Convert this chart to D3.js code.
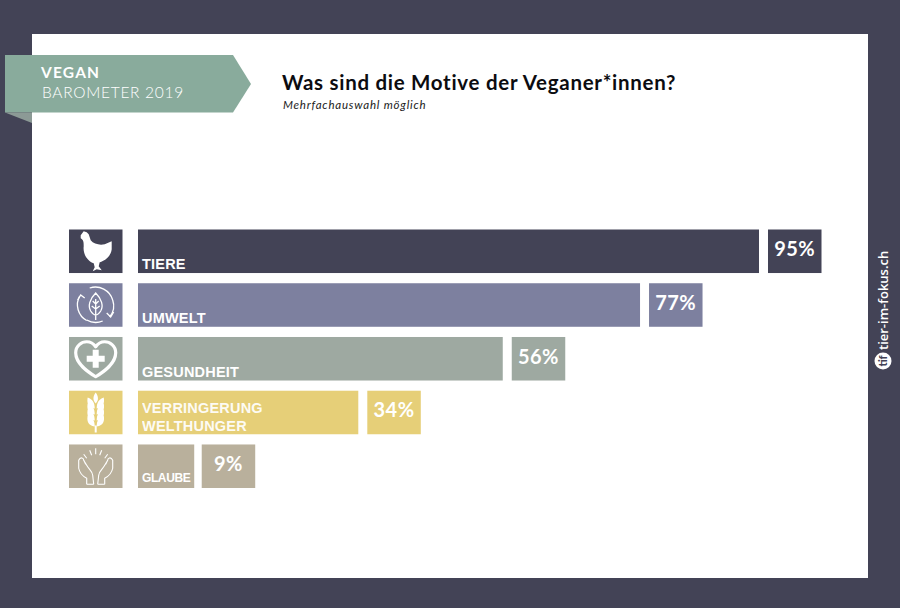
<!DOCTYPE html>
<html><head><meta charset="utf-8">
<script src="https://cdn.jsdelivr.net/npm/d3@7/dist/d3.min.js"></script>
<style>html,body{margin:0;padding:0;background:#434356}svg{display:block}</style></head><body>
<svg id="c" width="900" height="608" font-family="Lato"></svg>
<script>
const categories=["TIERE","UMWELT","GESUNDHEIT","VERRINGERUNG|WELTHUNGER","GLAUBE"];
const values=[95,76.8,55.8,33.7,8.6];
const valueLabels=["95%","77%","56%","34%","9%"];
const colors=["#434356","#7d809f","#9ea9a1","#e6cf78","#b9b09c"];
const iconKeys=["hen","leaf","heart","wheat","hands"];

const svg=d3.select("#c");
svg.append("rect").attr("width",900).attr("height",608).attr("fill","#434356");
svg.append("rect").attr("x",32).attr("y",34).attr("width",836).attr("height",544).attr("fill","#fff");

// banner
svg.append("path").attr("d","M5 55H233L251 84L233 112.5H5Z").attr("fill","#89ab9c");
svg.append("path").attr("d","M5 112.5H32V123Z").attr("fill","#8c9a96");
svg.append("text").attr("x",41).attr("y",78).attr("fill","#fff").attr("font-size",15.5).attr("font-weight",700).attr("letter-spacing",1.2).text("VEGAN");
svg.append("text").attr("x",42).attr("y",98).attr("fill","#fff").attr("font-size",15.5).attr("font-weight",300).attr("letter-spacing",.7).text("BAROMETER 2019");

svg.append("text").attr("x",282).attr("y",90).attr("fill","#0c0c10").attr("font-size",20.5).attr("font-weight",700).attr("letter-spacing",.71).text("Was sind die Motive der Veganer*innen?");
svg.append("text").attr("x",283).attr("y",109).attr("fill","#222").attr("font-size",11.5).attr("font-style","italic").attr("letter-spacing",.8).text("Mehrfachauswahl möglich");

const x=d3.scaleLinear().domain([0,95]).range([138,759]);
const y=d3.scaleBand().domain(categories).range([229.5,488]).paddingInner(.19).paddingOuter(0);
const bw=y.bandwidth();
const rows=svg.append("g").selectAll("g").data(categories).join("g").attr("transform",d=>`translate(0,${y(d)})`);
rows.append("rect").attr("x",69).attr("width",53.5).attr("height",bw).attr("fill",(d,i)=>colors[i]);
rows.append("rect").attr("x",x(0)).attr("width",(d,i)=>x(values[i])-x(0)).attr("height",bw).attr("fill",(d,i)=>colors[i]);
rows.append("rect").attr("x",(d,i)=>x(values[i])+(i==4?7.5:9)).attr("width",53.5).attr("height",bw).attr("fill",(d,i)=>colors[i]);
rows.append("text").attr("x",(d,i)=>x(values[i])+(i==4?7.5:9)+26.7).attr("y",bw/2+5).attr("text-anchor","middle").attr("fill","#fff")
  .attr("font-weight",700).attr("font-size",20).attr("letter-spacing",.5).text((d,i)=>valueLabels[i]);
rows.each(function(d,i){
  const g=d3.select(this),p=d.split("|");
  const fs=i==4?12:14.5;
  const base=p.length==2?[22,40]:[bw-4,0];
  p.forEach((t,j)=>g.append("text").attr("x",142).attr("y",i==4?bw-6:base[j]).attr("fill","#fff").attr("font-family","Liberation Sans")
    .attr("font-weight",700).attr("font-size",fs).attr("letter-spacing",i==4?-.4:.2).attr("opacity",i==3?.92:1).text(t));
});

// icons (decorative)
const icons={
 hen(g){g.append("path").attr("fill","#fff").attr("d","M-15 -16 L-12 -20 L-9 -19 L-7 -17 L-5 -11 C-2 -7 4 -6 9 -7 L16 -10 L16 -2 C15 6 8 10 4 11 L3 15 L6 19 L1 18 L-3 20 L-1 16 L-2 12 C-8 10 -13 3 -12 -5 C-12 -9 -12 -11 -15 -13 Z");},
 leaf(g){const s=g.append("g").attr("fill","none").attr("stroke","#fff").attr("stroke-width",1.3);
  s.append("path").attr("d","M-16 -9 A18 18 0 0 0 -9 15.5 M-6 -17 A18 18 0 0 1 17 -5 A18 18 0 0 1 14 12");
  s.append("path").attr("d","M-18 -5 L-15 -10 L-11 -7 M18 7 L15 12 L11 8 M-9 15 A18 18 0 0 0 7 16");
  s.append("path").attr("d","M0 -12 C6 -6 8 1 5 6 C3 9 1 10 0 10 C-1 10 -3 9 -5 6 C-8 1 -6 -6 0 -12 Z M0 -6 V15 M0 -1 L3 -4 M0 -1 L-3 -4 M0 4 L4 1 M0 4 L-4 1");},
 heart(g){g.append("path").attr("fill","none").attr("stroke","#fff").attr("stroke-width",3.2).attr("stroke-linejoin","round")
  .attr("d","M0 18 C-8 13 -20 5 -20 -6 C-20 -13 -14 -17 -9 -17 C-5 -17 -2 -15 0 -12 C2 -15 5 -17 9 -17 C14 -17 20 -13 20 -6 C20 5 8 13 0 18 Z");
  g.append("path").attr("fill","#fff").attr("d","M-3 -9H3V-3H9V3H3V9H-3V3H-9V-3H-3Z");},
 wheat(g){const s=g.append("g").attr("fill","#fff");
  s.append("path").attr("d","M0 -20 C3 -16 3 -12 0 -9 C-3 -12 -3 -16 0 -20 Z");
  [-10,-4,2,8].forEach(t=>{s.append("path").attr("d",`M-1 ${t+6} C-8 ${t+5} -9 ${t} -8 ${t-5} C-3 ${t-3} -1 ${t} -1 ${t+6} Z`);
   s.append("path").attr("d",`M1 ${t+6} C8 ${t+5} 9 ${t} 8 ${t-5} C3 ${t-3} 1 ${t} 1 ${t+6} Z`);});
  s.append("rect").attr("x",-1).attr("y",13).attr("width",2).attr("height",7);},
 hands(g){const s=g.append("g").attr("fill","none").attr("stroke","#fff").attr("stroke-width",1.1);
  s.append("path").attr("d","M-2 18 L-3 9 C-3 5 -7 3 -9 -1 L-12 -6 M-9 18 V12 C-13 10 -16 7 -17 2 L-17 -6 C-15 -10 -12 -8 -12 -6 L-10 -2");
  s.append("path").attr("d","M2 18 L3 9 C3 5 7 3 9 -1 L12 -6 M9 18 V12 C13 10 16 7 17 2 L17 -6 C15 -10 12 -8 12 -6 L10 -2");
  s.append("path").attr("d","M-9 18 H-2 M2 18 H9 M0 -18 V-12 M-6 -16 L-4 -11 M6 -16 L4 -11 M-12 -12 L-9 -8 M12 -12 L9 -8");}
};
rows.each(function(d,i){const g=d3.select(this).append("g").attr("transform",`translate(95.7,${bw/2})`);icons[iconKeys[i]](g);});

// side credit
const cr=svg.append("g").attr("transform","translate(883,361)");
cr.append("circle").attr("r",8.5).attr("fill","#fff");
cr.append("text").attr("text-anchor","middle").attr("y",4).attr("font-size",11).attr("font-weight",900).attr("fill","#434356").attr("transform","rotate(-90)").text("tif");
svg.append("text").attr("transform","translate(888,350) rotate(-90)").attr("fill","#fff").attr("font-family","Open Sans").attr("font-size",13).attr("font-weight",600).text("tier-im-fokus.ch");
</script></body></html>
